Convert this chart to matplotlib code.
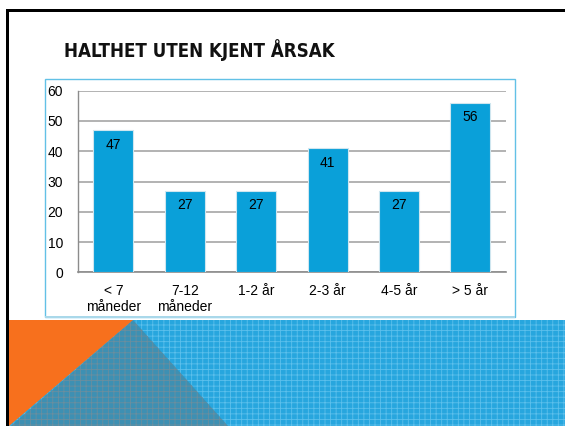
import matplotlib.pyplot as plt
from matplotlib.patches import Rectangle, Polygon

# Data
categories = ["< 7\nmåneder", "7-12\nmåneder", "1-2 år", "2-3 år", "4-5 år", "> 5 år"]
values = [47, 27, 27, 41, 27, 56]
yticks = [0, 10, 20, 30, 40, 50, 60]
title = "HALTHET UTEN KJENT ÅRSAK"

W, H = 565, 426
plt.rcParams["font.family"] = ["Liberation Sans", "DejaVu Sans"]
plt.rcParams["hatch.linewidth"] = 0.6

fig = plt.figure(figsize=(W / 100, H / 100), dpi=100)


def fx(x):
    return x / W


def fy(y):
    return 1 - y / H


# Slide decoration: bottom band
band = Rectangle((fx(9), 0), 1 - fx(9), fy(320), transform=fig.transFigure,
                 facecolor="#27a6de", edgecolor="#5cc0ec", hatch="+++",
                 linewidth=0, zorder=0)
fig.patches.append(band)
tri_gray = Polygon([(fx(133), fy(320)), (fx(228), 0), (fx(11), 0)],
                   closed=True, transform=fig.transFigure, facecolor="#3d90b3",
                   edgecolor="#6b8e9e", hatch="+++", linewidth=0, zorder=0.1)
fig.patches.append(tri_gray)
tri_orange = Polygon([(fx(9), fy(320)), (fx(133), fy(320)), (fx(9), fy(426))],
                     closed=True, transform=fig.transFigure,
                     facecolor="#f7701d", edgecolor="none", zorder=0.2)
fig.patches.append(tri_orange)

# Black border (top and left)
fig.patches.append(Rectangle((fx(6), 0), fx(3), fy(9), transform=fig.transFigure,
                             facecolor="black", edgecolor="none", zorder=0.3))
fig.patches.append(Rectangle((fx(6), fy(12)), 1 - fx(6), 3 / H,
                             transform=fig.transFigure,
                             facecolor="black", edgecolor="none", zorder=0.3))

# Chart frame
fig.patches.append(Rectangle((fx(44.5), fy(317)), fx(514.5 - 44.5), (317 - 78.5) / H,
                             transform=fig.transFigure, facecolor="white",
                             edgecolor="#62c1e6", linewidth=1.0, zorder=0.4))
fig.patches.append(Rectangle((fx(44.5), fy(318)), fx(514.5 - 44.5), 2 / H,
                             transform=fig.transFigure, facecolor="#a9d8ea",
                             edgecolor="none", zorder=0.4))

# Title
fig.text(fx(64), fy(57), title, fontsize=13.4, fontweight="bold",
         fontstretch="condensed", family=["DejaVu Sans"], color="#111111",
         ha="left", va="baseline")

# Chart
ax = fig.add_axes([fx(77.7), fy(272.3), fx(506 - 77.7), (272.3 - 90.7) / H])
ax.set_zorder(2)
ax.set_facecolor("none")
x = range(len(categories))
bars = ax.bar(x, values, width=0.56, color="#0aa0d9", edgecolor="#cfe6ef",
              linewidth=0.8, zorder=3)

for xi, v in zip(x, values):
    ax.annotate(str(v), (xi, v), xytext=(0, -5.5), textcoords="offset points",
                ha="center", va="top", fontsize=10, color="black", zorder=4)

ax.set_xlim(-0.5, len(categories) - 0.5)
ax.set_ylim(0, 60)
ax.set_yticks(yticks)
ax.set_xticks(list(x))
ax.set_xticklabels(categories, fontsize=10, linespacing=1.15)
ax.tick_params(axis="y", length=0, pad=10.5, labelsize=10)
ax.tick_params(axis="x", length=0, pad=8.5)
ax.grid(axis="y", color="#a6a6a6", linewidth=1.2, zorder=1)
for side in ["top", "right"]:
    ax.spines[side].set_visible(False)
ax.spines["left"].set_color("#8c8c8c")
ax.spines["bottom"].set_color("#8c8c8c")
ax.spines["left"].set_linewidth(1.0)
ax.spines["bottom"].set_linewidth(1.2)

fig.savefig("out.png", dpi=100)
